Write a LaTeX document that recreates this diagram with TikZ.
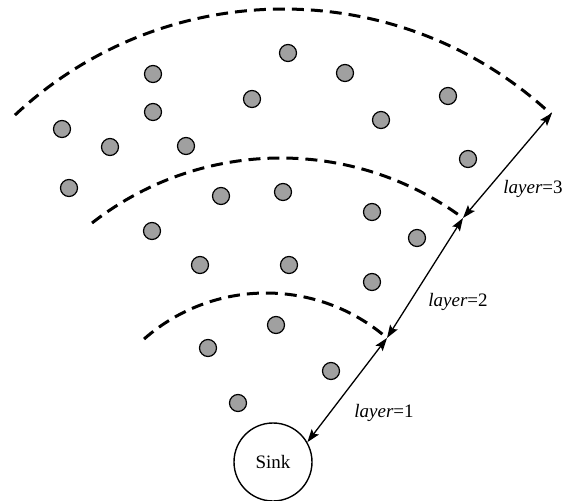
\documentclass[tikz,border=0pt]{standalone}
\usepackage{fontspec}
\setmainfont{Liberation Serif}
\usetikzlibrary{arrows.meta}
\definecolor{dotgray}{RGB}{160,160,160}
\begin{document}
\begin{tikzpicture}[x=1pt,y=-1pt,
  sensor/.style={circle,draw=black,line width=1.2pt,fill=dotgray,minimum size=17pt,inner sep=0pt},
  sinknode/.style={circle,draw=black,line width=1.4pt,minimum size=78pt,inner sep=0pt,font=\fontsize{19}{22}\selectfont},
  layerarc/.style={line width=3pt,dash pattern=on 12pt off 7pt},
  layerarrow/.style={line width=1.3pt,{Stealth[length=13pt,width=9pt,inset=2.5pt]}-{Stealth[length=13pt,width=9pt,inset=2.5pt]}},
  lab/.style={anchor=base,inner sep=0pt,font=\fontsize{19}{22}\selectfont}]
\useasboundingbox (0,0) rectangle (574,501);
% layer boundaries
\draw[layerarc] (266.1,477.9) ++(-131.3:184.9) arc[start angle=-131.3,end angle=-49.2,radius=184.9];
\draw[layerarc] (280.8,464.6) ++(-128.0:306.6) arc[start angle=-128.0,end angle=-53.5,radius=306.6];
\draw[layerarc] (283.5,402) ++(-133.1:393) arc[start angle=-133.1,end angle=-47.1,radius=393];
% sensors
\node[sensor] (d1) at (153,74) {};
\node[sensor] (d2) at (153,112) {};
\node[sensor] (d3) at (62,129) {};
\node[sensor] (d4) at (110,147) {};
\node[sensor] (d5) at (186,146) {};
\node[sensor] (d6) at (252,99) {};
\node[sensor] (d7) at (288,53) {};
\node[sensor] (d8) at (345,73) {};
\node[sensor] (d9) at (381,120) {};
\node[sensor] (d10) at (448,96) {};
\node[sensor] (d11) at (468,159) {};
\node[sensor] (d12) at (69,188) {};
\node[sensor] (d13) at (221,196) {};
\node[sensor] (d14) at (283,192) {};
\node[sensor] (d15) at (372,212) {};
\node[sensor] (d16) at (417,238) {};
\node[sensor] (d17) at (152,231) {};
\node[sensor] (d18) at (200,265) {};
\node[sensor] (d19) at (289,265) {};
\node[sensor] (d20) at (372,282) {};
\node[sensor] (d21) at (276,325) {};
\node[sensor] (d22) at (208,348) {};
\node[sensor] (d23) at (331,371) {};
\node[sensor] (d24) at (238,403) {};
% sink
\node[sinknode] (sink) at (273,462) {Sink};
% layer junctions
\coordinate (j1) at (387,338);
\coordinate (j2) at (463,218);
\coordinate (j3) at (552,113);
\draw[layerarrow] (sink.30) -- (j1);
\draw[layerarrow] (j1) -- (j2);
\draw[layerarrow] (j2) -- (j3);
% labels
\node[lab] (l1) at (384,417) {\textit{layer}=1};
\node[lab] (l2) at (458,306) {\textit{layer}=2};
\node[lab] (l3) at (533,193) {\textit{layer}=3};
\end{tikzpicture}
\end{document}
